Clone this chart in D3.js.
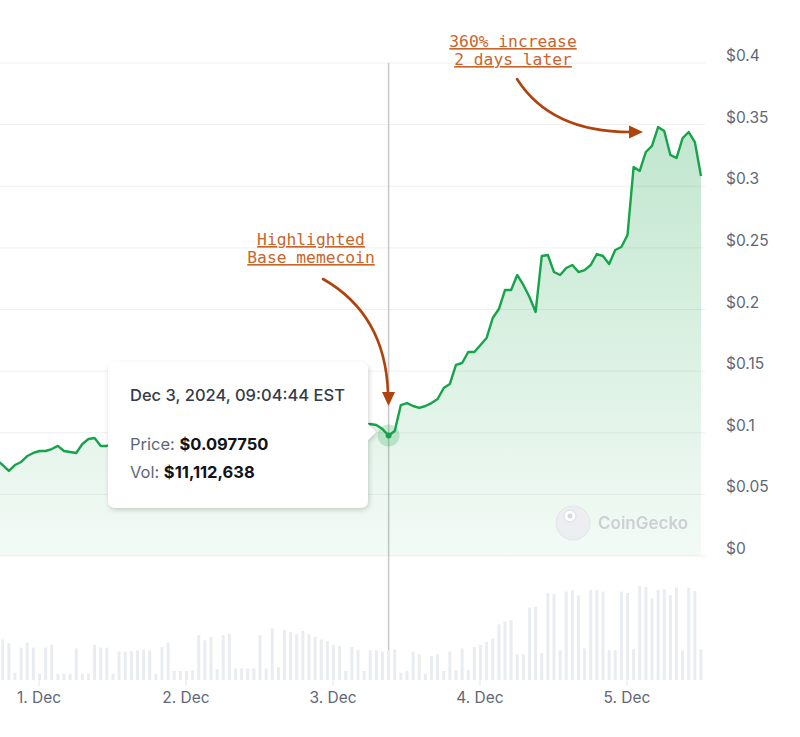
<!DOCTYPE html>
<html>
<head>
<meta charset="utf-8">
<script src="https://cdn.jsdelivr.net/npm/d3@7"></script>
<style>
  body { margin: 0; background: #fff; }
  text { font-family: Inter, "Noto Sans", sans-serif; }
</style>
</head>
<body>
<div id="chart"></div>
<script>
// hourly points, first one at Nov 30 17:04:44
const startTime = new Date(2024, 10, 30, 17, 4, 44);

const prices = [
  0.0779, 0.0738, 0.0690, 0.0738, 0.0763, 0.0811, 0.0836,
  0.0852, 0.0852, 0.0868, 0.0893, 0.0852, 0.0844, 0.0836, 0.0909, 0.0949, 0.0957, 0.0893, 0.0893,
  0.091, 0.094, 0.092, 0.089, 0.090, 0.093, 0.095, 0.097, 0.096, 0.094, 0.092, 0.093,
  0.096, 0.099, 0.101, 0.098, 0.097, 0.095, 0.094, 0.096, 0.098, 0.100, 0.103, 0.101,
  0.099, 0.097, 0.098, 0.100, 0.102, 0.104, 0.103, 0.101, 0.100, 0.102, 0.105, 0.107,
  0.106, 0.104, 0.103, 0.104, 0.105, 0.106,
  0.1071, 0.1063, 0.1030, 0.09775, 0.1014, 0.1225, 0.1241, 0.1217, 0.1201, 0.1217, 0.1241,
  0.1274, 0.1363, 0.1396, 0.1550, 0.1566, 0.1655, 0.1655, 0.1712, 0.1769, 0.1931, 0.2004,
  0.2158, 0.2158, 0.2280, 0.2199, 0.2101, 0.1980, 0.2434, 0.2442, 0.2304, 0.2280, 0.2337,
  0.2361, 0.2304, 0.2320, 0.2361, 0.2450, 0.2434, 0.2369, 0.2483, 0.2507, 0.2604, 0.3156,
  0.3124, 0.3278, 0.3327, 0.3480, 0.3448, 0.3254, 0.3229, 0.3391, 0.3440, 0.3359, 0.3083
];

// volume in millions of USD
const volumes = [
  14.0, 15.0, 13.7, 2.7, 12.0, 13.8, 12.0,
  2.3, 12.0, 13.0, 2.3, 2.3, 2.3, 11.7, 2.3, 2.3, 13.0, 12.0, 12.0,
  2.3, 10.5, 10.5, 10.7, 11.0, 11.3, 11.0, 2.3, 12.2, 13.8, 3.3, 3.3,
  3.3, 3.6, 16.6, 14.7, 16.0, 4.0, 16.6, 17.1, 4.3, 4.3, 4.3, 4.3,
  16.6, 4.3, 19.1, 4.8, 18.5, 17.8, 16.9, 18.1, 16.9, 16.0, 15.0, 14.4,
  12.9, 12.6, 3.3, 12.2, 11.0, 3.3, 11.0, 11.0, 10.5, 11.112638, 11.3,
  2.7, 3.3, 10.5, 9.5, 2.3, 8.9, 9.5, 3.3, 10.5, 3.7, 11.7, 3.7, 12.2,
  12.9, 14.1, 15.3, 20.6, 21.6, 22.1, 9.5, 9.5, 26.8, 27.1, 9.9, 32.1,
  31.7, 11.0, 32.7, 33.2, 31.3, 11.7, 33.3, 33.3, 32.7, 11.0, 11.0, 32.7,
  32.2, 11.3, 34.7, 34.4, 30.2, 33.3, 33.6, 31.4, 34.2, 11.0, 34.2, 32.9, 11.3
];

const dayTicks = [new Date(2024, 11, 1), new Date(2024, 11, 2), new Date(2024, 11, 3), new Date(2024, 11, 4), new Date(2024, 11, 5)];
const dayLabels = ["1. Dec", "2. Dec", "3. Dec", "4. Dec", "5. Dec"];
const priceTicks = [0, 0.05, 0.1, 0.15, 0.2, 0.25, 0.3, 0.35, 0.4];
const priceLabels = ["$0", "$0.05", "$0.1", "$0.15", "$0.2", "$0.25", "$0.3", "$0.35", "$0.4"];
const hoverIndex = 64;
const tooltipLines = ["Dec 3, 2024, 09:04:44 EST", "Price: ", "$0.097750", "Vol: ", "$11,112,638"];
const noteTop = ["360% increase", "2 days later"];
const noteMid = ["Highlighted", "Base memecoin"];

const W = 800, H = 737;
const data = prices.map((p, i) => ({
  t: new Date(startTime.getTime() + i * 3600e3),
  p: p,
  v: volumes[i] * 1e6
}));

const svg = d3.select("#chart").append("svg").attr("width", W).attr("height", H);
const defs = svg.append("defs");

const x = d3.scaleTime().domain([dayTicks[0], dayTicks[4]]).range([39, 627]);
const y = d3.scaleLinear().domain([0, 0.4]).range([556, 63]);
const yv = d3.scaleLinear().domain([0, 37e6]).range([680, 580]);

defs.append("clipPath").attr("id", "plot").append("rect")
  .attr("x", 0).attr("y", 0).attr("width", 705).attr("height", H);

const grad = defs.append("linearGradient").attr("id", "fillGrad")
  .attr("gradientUnits", "userSpaceOnUse").attr("x1", 0).attr("x2", 0).attr("y1", y(0.4)).attr("y2", y(0));
grad.append("stop").attr("offset", 0).attr("stop-color", "#16a34a").attr("stop-opacity", 0.3);
grad.append("stop").attr("offset", 1).attr("stop-color", "#16a34a").attr("stop-opacity", 0.05);

const shadow = defs.append("filter").attr("id", "shadow").attr("x", -0.2).attr("y", -0.2).attr("width", 1.4).attr("height", 1.4);
shadow.append("feDropShadow").attr("dx", 1).attr("dy", 2).attr("stdDeviation", 2.5)
  .attr("flood-color", "#000").attr("flood-opacity", 0.18);

// grid + y labels
svg.append("g").selectAll("line").data(priceTicks).join("line")
  .attr("x1", 0).attr("x2", 705)
  .attr("y1", d => y(d)).attr("y2", d => y(d))
  .attr("stroke", "#efefef").attr("stroke-width", 1);

svg.append("g").selectAll("text").data(priceTicks).join("text")
  .attr("x", 726).attr("y", d => y(d) - 2)
  .attr("font-size", 15.5).attr("fill", "#5f6776")
  .text((d, i) => priceLabels[i]);

const plot = svg.append("g").attr("clip-path", "url(#plot)");

// crosshair
const hp = data[hoverIndex];
plot.append("line")
  .attr("x1", x(hp.t)).attr("x2", x(hp.t))
  .attr("y1", y(0.4)).attr("y2", 680)
  .attr("stroke", "#c8c8c8").attr("stroke-width", 1.5);

// volume bars
plot.append("g").selectAll("rect").data(data).join("rect")
  .attr("x", d => x(d.t) - 1.5)
  .attr("width", 3)
  .attr("y", d => yv(d.v))
  .attr("height", d => 680 - yv(d.v))
  .attr("fill", "#e9ecf1");

// day ticks + labels
svg.append("g").selectAll("line").data(dayTicks).join("line")
  .attr("x1", d => x(d)).attr("x2", d => x(d))
  .attr("y1", 680).attr("y2", 686)
  .attr("stroke", "#e3e6ec");
svg.append("g").selectAll("text").data(dayTicks).join("text")
  .attr("x", d => x(d)).attr("y", 703)
  .attr("text-anchor", "middle").attr("font-size", 15.5).attr("fill", "#5f6776")
  .text((d, i) => dayLabels[i]);

// watermark
const wm = svg.append("g").attr("opacity", 0.9);
wm.append("circle").attr("cx", 573).attr("cy", 523).attr("r", 17).attr("fill", "#eceef1").attr("stroke", "#dfe2e6");
wm.append("circle").attr("cx", 570).attr("cy", 516).attr("r", 6).attr("fill", "#fff").attr("stroke", "#d8dbe0");
wm.append("circle").attr("cx", 570).attr("cy", 516).attr("r", 2.5).attr("fill", "#d3d6db");
wm.append("text").attr("x", 598).attr("y", 529).attr("font-size", 17).attr("font-weight", 600)
  .attr("fill", "#c9ccd2").text("CoinGecko");

// area + line
const area = d3.area().x(d => x(d.t)).y0(y(0)).y1(d => y(d.p));
const line = d3.line().x(d => x(d.t)).y(d => y(d.p));
plot.append("path").datum(data).attr("d", area).attr("fill", "url(#fillGrad)");
plot.append("path").datum(data).attr("d", line)
  .attr("fill", "none").attr("stroke", "#16a34a").attr("stroke-width", 2.4)
  .attr("stroke-linejoin", "round");

// hover marker
svg.append("circle").attr("cx", x(hp.t)).attr("cy", y(hp.p)).attr("r", 11)
  .attr("fill", "#16a34a").attr("fill-opacity", 0.22);
svg.append("circle").attr("cx", x(hp.t)).attr("cy", y(hp.p)).attr("r", 3).attr("fill", "#16a34a");

// tooltip
const tip = svg.append("g");
tip.append("path")
  .attr("d", "M116,362 H360 Q368,362 368,370 V424 L376,432 L368,440 V500 Q368,508 360,508 H116 Q108,508 108,500 V370 Q108,362 116,362 Z")
  .attr("fill", "#fff").attr("filter", "url(#shadow)");
tip.append("text").attr("x", 130).attr("y", 401).attr("font-size", 16.5).attr("font-weight", 500)
  .attr("fill", "#353b47").text(tooltipLines[0]);
const t1 = tip.append("text").attr("x", 130).attr("y", 450).attr("font-size", 16.5);
t1.append("tspan").attr("fill", "#5f6776").text(tooltipLines[1]);
t1.append("tspan").attr("fill", "#111318").attr("font-weight", 700).text(tooltipLines[2]);
const t2 = tip.append("text").attr("x", 130).attr("y", 478).attr("font-size", 16.5);
t2.append("tspan").attr("fill", "#5f6776").text(tooltipLines[3]);
t2.append("tspan").attr("fill", "#111318").attr("font-weight", 700).text(tooltipLines[4]);

// annotations
const noteColor = "#c9652b", arrowColor = "#b0420d";
function note(lines, cx, y0) {
  svg.append("g").selectAll("text").data(lines).join("text")
    .attr("x", cx).attr("y", (d, i) => y0 + i * 18)
    .attr("text-anchor", "middle")
    .style("font-family", "'DejaVu Sans Mono', monospace")
    .attr("font-size", 16.3).attr("fill", noteColor)
    .attr("text-decoration", "underline")
    .text(d => d);
}
note(noteTop, 513, 47);
note(noteMid, 311, 245);

svg.append("path").attr("d", "M323,279 C360,300 386,335 388,393")
  .attr("fill", "none").attr("stroke", arrowColor).attr("stroke-width", 2.6).attr("stroke-linecap", "round");
svg.append("path").attr("d", "M382,392 L395,392 L388.5,406 Z").attr("fill", arrowColor);
svg.append("path").attr("d", "M517,79 C538,112 575,132 630,132")
  .attr("fill", "none").attr("stroke", arrowColor).attr("stroke-width", 2.6).attr("stroke-linecap", "round");
svg.append("path").attr("d", "M629,125.5 L629,138.5 L643,132 Z").attr("fill", arrowColor);
</script>
</body>
</html>
